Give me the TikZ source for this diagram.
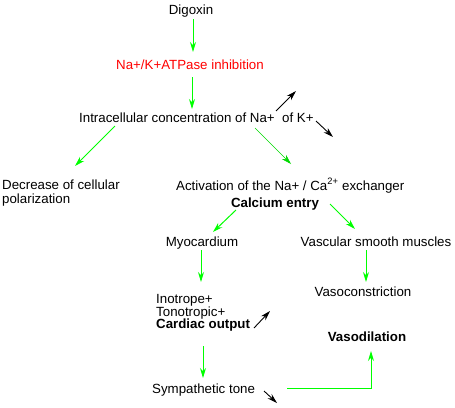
\documentclass[tikz,border=0pt]{standalone}
\usepackage{fontspec}
\setmainfont{Liberation Sans}
\usepackage{xcolor}
\usetikzlibrary{arrows.meta}

\begin{document}
\begin{tikzpicture}[x=1pt,y=-1pt,font=\fontsize{13.3}{15}\selectfont,>={Stealth[length=10pt,width=6pt]}]
\tikzstyle{txt}=[inner sep=0pt,anchor=base]
\tikzstyle{txtl}=[inner sep=0pt,anchor=base west]
\tikzstyle{bold}=[font=\fontsize{13.3}{15}\selectfont\bfseries]
\tikzstyle{flow}=[->,draw=green,line width=1pt]
\tikzstyle{thin}=[->,draw=green!85!black,line width=0.5pt]
\tikzstyle{trend}=[->,draw=black,line width=0.9pt]
\useasboundingbox (0,0) rectangle (455,407);
\node[txt] (dig) at (191,14) {Digoxin};
\node[txt,text=red] (atp) at (190,69) {Na+/K+ATPase inhibition};
\node[txtl] (conc) at (79,122) {Intracellular concentration of Na+\ \ of K+};
\node[txtl] (pol1) at (2,189) {Decrease of cellular};
\node[txtl] (pol2) at (2,203) {polarization};
\node[txtl] (exch) at (176,190) {Activation of the Na+ / Ca\textsuperscript{2+} exchanger};
\node[txt,bold] (ca) at (275,207) {Calcium entry};
\node[txt] (myo) at (202,246) {Myocardium};
\node[txt] (vsm) at (376,246) {Vascular smooth muscles};
\node[txt] (vcon) at (363,296) {Vasoconstriction};
\node[txtl] (ino) at (156,303) {Inotrope+};
\node[txtl] (tono) at (156,316) {Tonotropic+};
\node[txtl,bold] (co) at (156,328) {Cardiac output};
\node[txt,bold] (vdil) at (367,341) {Vasodilation};
\node[txtl] (symp) at (152,393) {Sympathetic tone};
% green flow
\draw[flow] (193,19) -- (193,52);
\draw[flow] (192,77) -- (192,109);
\draw[flow] (115,126) -- (75,166);
\draw[thin] (255,128) -- (291,164);
\draw[flow] (236,210) -- (213,232);
\draw[flow] (330,204) -- (355,229);
\draw[flow] (201,250) -- (201,282);
\draw[flow] (366,250) -- (366,282);
\draw[flow] (203,346) -- (203,378);
\coordinate (tone) at (287,388);
\draw[flow] (tone) -- (371,388) -- (371,351);
% up / down
\draw[trend] (276,111) -- (296,91);
\draw[trend] (316,121) -- (333,137);
\draw[trend] (254,328) -- (270,311);
\draw[trend] (264,391) -- (277,403);
\end{tikzpicture}
\end{document}
